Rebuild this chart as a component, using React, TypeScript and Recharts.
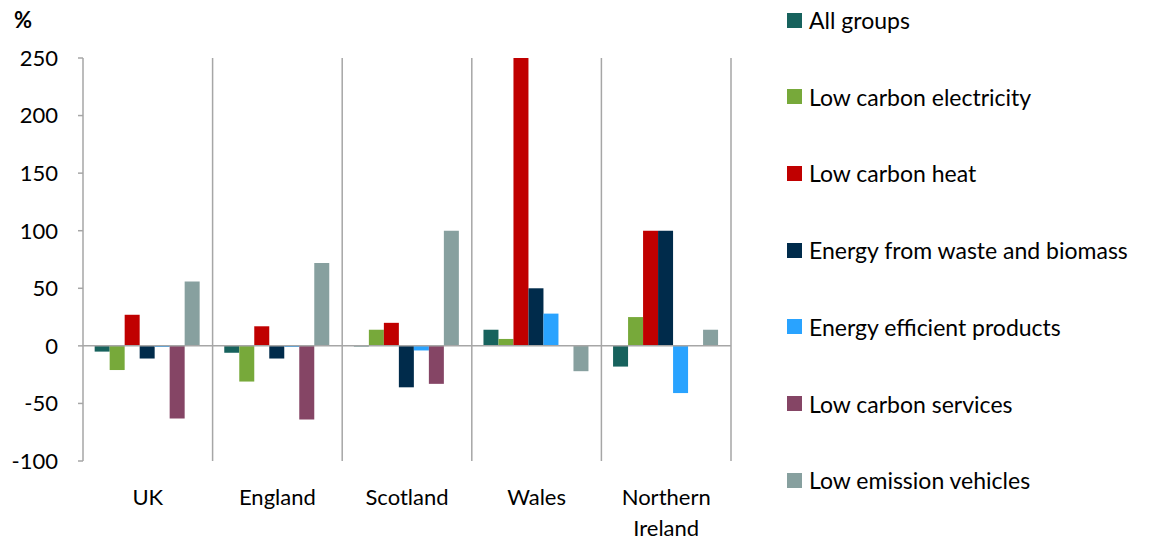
import { BarChart, Bar, XAxis, YAxis, CartesianGrid, ReferenceLine } from 'recharts'

const FONT = 'Lato, "Liberation Sans", sans-serif'
const AXIS_GREY = '#A6A6A6'

const categories = ['UK', 'England', 'Scotland', 'Wales', 'Northern Ireland']
const yTicks = [-100, -50, 0, 50, 100, 150, 200, 250]

// % change by region for each low carbon group
const allGroups = [-5, -6, -0.5, 14, -18]
const lowCarbonElectricity = [-21, -31, 14, 6, 25]
const lowCarbonHeat = [27, 17, 20, 250, 100]
const energyFromWaste = [-11, -11, -36, 50, 100]
const energyEfficient = [-1, -1, -4, 28, -41]
const lowCarbonServices = [-63, -64, -33, 0, 0]
const lowEmissionVehicles = [56, 72, 100, -22, 14]

const SERIES = [
  { key: 'allGroups', name: 'All groups', color: '#17625D', values: allGroups },
  { key: 'electricity', name: 'Low carbon electricity', color: '#77A93A', values: lowCarbonElectricity },
  { key: 'heat', name: 'Low carbon heat', color: '#C00000', values: lowCarbonHeat },
  { key: 'waste', name: 'Energy from waste and biomass', color: '#002B4B', values: energyFromWaste },
  { key: 'efficient', name: 'Energy efficient products', color: '#29A3FF', values: energyEfficient },
  { key: 'services', name: 'Low carbon services', color: '#854565', values: lowCarbonServices },
  { key: 'vehicles', name: 'Low emission vehicles', color: '#87A09F', values: lowEmissionVehicles },
]

const data = categories.map((category, i) => {
  const row: Record<string, string | number> = { category }
  SERIES.forEach((s) => {
    row[s.key] = s.values[i]
  })
  return row
})

const WRAPPED: Record<string, string[]> = {
  'Northern Ireland': ['Northern', 'Ireland'],
}

function RegionTick(props: any) {
  const { x, y, payload } = props
  const lines = WRAPPED[payload.value] || [payload.value]
  return (
    <text x={x} y={y} textAnchor="middle" fill="#000" fontSize={22} fontFamily={FONT}>
      {lines.map((line, i) => (
        <tspan key={line} x={x} dy={i === 0 ? 36 : 31}>
          {line}
        </tspan>
      ))}
    </text>
  )
}

export default function App() {
  return (
    <div style={{ position: 'absolute', left: 0, top: 0, width: 1161, height: 541, background: '#fff', fontFamily: FONT }}>
      <div style={{ position: 'absolute', left: 14, top: 6, fontSize: 22, fontWeight: 700, color: '#000' }}>%</div>

      <BarChart
        width={1161}
        height={541}
        data={data}
        margin={{ top: 58, right: 430, bottom: 50, left: 0 }}
        barCategoryGap="9%"
        barGap={0}
      >
        <CartesianGrid
          horizontal={false}
          stroke={AXIS_GREY}
          strokeWidth={1.5}
          verticalCoordinatesGenerator={({ offset }: any) =>
            categories.map((_, i) => offset.left + ((i + 1) * offset.width) / categories.length)
          }
        />
        <XAxis dataKey="category" height={30} axisLine={false} tickLine={false} interval={0} tick={<RegionTick />} />
        <YAxis
          width={83}
          domain={[-100, 250]}
          ticks={yTicks}
          interval={0}
          tickSize={5}
          tickMargin={20}
          axisLine={{ stroke: AXIS_GREY, strokeWidth: 1.5 }}
          tickLine={{ stroke: AXIS_GREY, strokeWidth: 1.5 }}
          tick={{ fontSize: 22, fill: '#000', fontFamily: FONT }}
        />
        <ReferenceLine y={0} stroke={AXIS_GREY} strokeWidth={1.5} />
        {SERIES.map((s) => (
          <Bar key={s.key} dataKey={s.key} name={s.name} fill={s.color} isAnimationActive={false} />
        ))}
      </BarChart>

      <div style={{ position: 'absolute', left: 787, top: 0 }}>
        {SERIES.map((s, i) => (
          <div
            key={s.key}
            style={{ position: 'absolute', left: 0, top: 20 + i * 76.7 - 15, height: 30, display: 'flex', alignItems: 'center', whiteSpace: 'nowrap' }}
          >
            <span style={{ width: 15, height: 15, background: s.color, display: 'inline-block', marginRight: 7 }} />
            <span style={{ fontSize: 23, color: '#000' }}>{s.name}</span>
          </div>
        ))}
      </div>
    </div>
  )
}
